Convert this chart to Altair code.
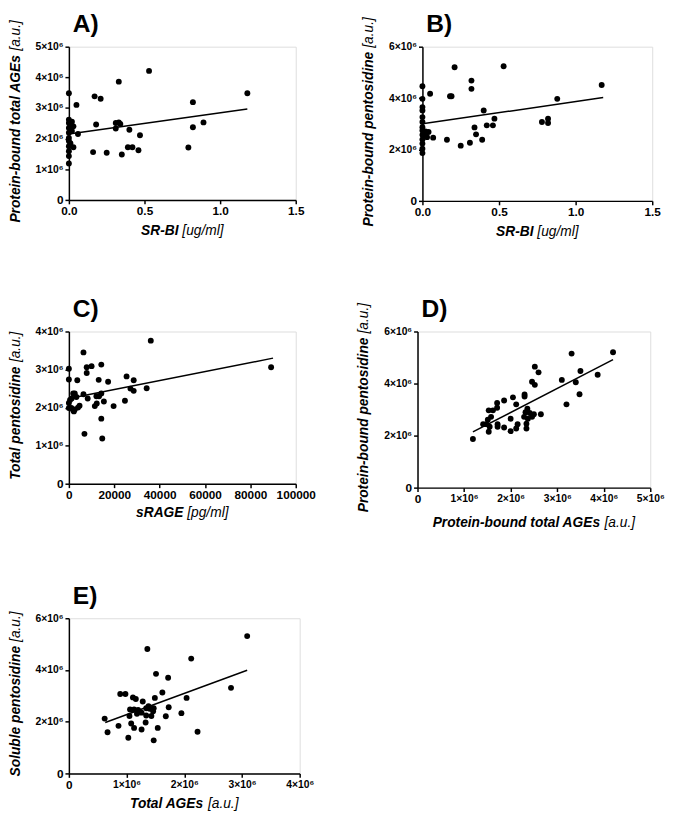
import altair as alt
import pandas as pd

FONT = "Liberation Sans"

# ---------------- data (y values in units of 10^6) ----------------
# A) SR-BI [ug/ml] vs protein-bound total AGEs
a_x = [0.53, 0.33, 1.18, 0.00, 0.17, 0.21, 0.82, 0.05, 0.18, 0.31, 0.33, 0.34, 0.31, 0.40,
       0.82, 0.89, 0.47, 0.06, 0.16, 0.25, 0.35, 0.39, 0.42, 0.46, 0.79,
       0.00, 0.00, 0.00, 0.00, 0.00, 0.00, 0.00, 0.00, 0.00, 0.00, 0.03, 0.03, 0.01, 0.02, 0.01, 0.02]
a_y = [4.21, 3.86, 3.48, 3.48, 3.38, 3.30, 3.19, 3.10, 2.46, 2.51, 2.53, 2.48, 2.33, 2.29,
       2.37, 2.53, 2.11, 2.15, 1.56, 1.54, 1.48, 1.72, 1.72, 1.62, 1.71,
       1.19, 1.43, 1.59, 1.75, 1.92, 2.02, 2.19, 2.35, 2.51, 2.62, 2.40, 1.72, 2.42, 2.55, 1.85, 2.25]
a_fit_x = [0.0, 1.18]
a_fit_y = [2.15, 2.97]

# B) SR-BI [ug/ml] vs protein-bound pentosidine
b_x = [0.53, 0.21, 0.32, 0.32, 1.17, 0.00, 0.05, 0.18, 0.19, 0.88, 0.40, 0.47, 0.78, 0.82,
       0.82, 0.34, 0.42, 0.46, 0.35, 0.39, 0.31, 0.25, 0.16, 0.07,
       0.00, 0.00, 0.00, 0.00, 0.00, 0.00, 0.00, 0.00, 0.00, 0.00, 0.00, 0.00, 0.02, 0.04, 0.03, 0.02]
b_y = [5.24, 5.20, 4.68, 4.36, 4.51, 4.46, 4.17, 4.07, 4.07, 3.97, 3.52, 3.20, 3.07, 3.20,
       3.03, 2.86, 2.94, 2.94, 2.59, 2.38, 2.26, 2.15, 2.38, 2.46,
       3.97, 3.65, 3.52, 3.26, 3.07, 2.87, 2.74, 2.57, 2.39, 2.23, 2.03, 1.86, 2.70, 2.68, 2.48, 2.55]
b_fit_x = [0.0, 1.18]
b_fit_y = [3.00, 4.02]

# C) sRAGE [pg/ml] vs total pentosidine
c_x = [36100, 6430, 89140, 0, 7860, 7860, 10000, 14290, 0, 3710, 13140, 17290, 25430, 28570,
       27140, 28570, 34290, 24710, 19710, 15430, 14290, 13290, 12140, 6430, 8290, 11430, 12290,
       14290, 6860, 14710, 0, 0, 1100, 1900, 2600, 4000, 1900, 2600, 1200, 4700, 3300, 500, 2200]
c_y = [3.76, 3.45, 3.06, 3.02, 3.06, 2.91, 3.09, 3.13, 2.74, 2.72, 2.73, 2.68, 2.82, 2.72,
       2.50, 2.44, 2.51, 2.18, 2.04, 2.16, 2.37, 2.30, 2.30, 2.35, 2.24, 2.04, 2.11,
       1.71, 1.31, 1.19, 2.12, 1.99, 1.99, 1.93, 1.95, 2.00, 2.37, 2.37, 2.24, 2.05, 2.28, 2.20, 1.90]
c_fit_x = [0, 90000]
c_fit_y = [2.24, 3.30]

# D) protein-bound total AGEs vs protein-bound pentosidine (both x10^6)
d_x = [1.19, 4.20, 3.31, 3.87, 3.50, 3.40, 3.10, 3.48, 3.20, 2.52, 2.60, 2.46, 2.52, 2.30, 2.30,
       2.05, 1.86, 1.71, 2.12, 1.71, 1.53, 1.62, 2.36, 2.32, 2.41, 2.29, 2.37, 2.46, 2.65, 2.50,
       2.00, 1.58, 1.51, 1.41, 1.48, 1.55, 1.53, 1.72, 1.72, 1.86, 2.00, 2.15, 2.12, 2.34, 2.34]
d_y = [1.87, 5.20, 5.15, 4.34, 4.48, 4.05, 4.14, 3.59, 3.20, 4.65, 4.43, 4.07, 3.95, 3.58, 3.50,
       3.47, 3.35, 3.25, 3.20, 3.07, 2.97, 2.97, 3.03, 2.90, 2.87, 2.72, 2.65, 2.72, 2.82, 2.82,
       2.65, 2.72, 2.61, 2.44, 2.44, 2.34, 2.15, 2.44, 2.34, 2.31, 2.17, 2.44, 2.27, 2.46, 2.27]
d_fit_x = [1.19, 4.20]
d_fit_y = [2.14, 4.92]

# E) total AGEs vs soluble pentosidine (both x10^6)
e_x = [3.09, 1.36, 2.12, 1.51, 1.72, 2.81, 0.89, 0.98, 1.62, 2.04, 1.11, 1.16, 1.28, 1.49,
       1.73, 1.95, 1.68, 1.06, 1.13, 1.34, 1.40, 1.47, 1.05, 1.18, 1.26, 1.34, 1.43, 1.46,
       0.62, 0.67, 0.86, 1.08, 1.13, 1.26, 1.33, 1.54, 1.03, 1.47, 2.23, 1.20, 1.38]
e_y = [5.31, 4.81, 4.44, 3.85, 3.70, 3.31, 3.07, 3.07, 3.13, 2.92, 2.94, 2.88, 2.78, 2.92,
       2.56, 2.33, 2.21, 2.47, 2.47, 2.52, 2.50, 2.52, 2.22, 2.31, 2.35, 2.24, 2.22, 2.40,
       2.12, 1.59, 1.84, 1.93, 1.76, 1.70, 1.97, 1.76, 1.38, 1.28, 1.61, 2.45, 2.60]
e_fit_x = [0.63, 3.09]
e_fit_y = [1.97, 3.99]

# ---------------- text metrics (Arial / Liberation Sans, per 1000 em) ----------------
BOLD_W = {' ': 278, '-': 333, '.': 278, '/': 278, '[': 333, ']': 333, 'A': 722, 'B': 722,
          'E': 667, 'G': 778, 'I': 278, 'P': 667, 'R': 722, 'S': 667, 'T': 611, 'a': 556,
          'b': 611, 'c': 556, 'd': 611, 'e': 556, 'g': 611, 'i': 278, 'l': 278, 'm': 889,
          'n': 611, 'o': 611, 'p': 611, 'r': 389, 's': 556, 't': 333, 'u': 611}
REG_W = {' ': 278, '[': 278, ']': 278, '.': 278, '/': 278, 'a': 556, 'u': 556, 'g': 556,
         'm': 833, 'l': 222, 'p': 556}
TFS = 14


def tw(s, table):
    return sum(table.get(c, 556) for c in s) * TFS / 1000.0


def txt(text, x, y, **kw):
    return alt.Chart(pd.DataFrame({"k": [0]})).mark_text(font=FONT, color="black", **kw).encode(
        x=alt.value(x), y=alt.value(y), text=alt.value(text))


SCI_EXPR = "datum.value == 0 ? '0' : format(datum.value, 'd') + '×10⁶'"
SCI_SIZE = {"condition": {"test": "datum.value == 0", "value": 12}, "value": 10.5}


def make_axis(values, sci, fmt=None):
    kw = dict(values=values, title=None, grid=False, domainColor="black", domainWidth=1.5,
              tickColor="black", tickWidth=1.5, tickSize=4, labelFont=FONT,
              labelFontWeight="bold", labelColor="black", labelFlush=False,
              labelOverlap=False, labelPadding=2)
    if sci:
        kw["labelExpr"] = SCI_EXPR
        kw["labelFontSize"] = SCI_SIZE
    else:
        kw["labelFontSize"] = 12
        if fmt:
            kw["format"] = fmt
    return alt.Axis(**kw)


def panel(px, py, fx, fy, W, H, xdom, xticks, xsci, xfmt, ydom, yticks, label, lab_y,
          ytitle, xtitle, xt_off, yshift=-2):
    xaxis = make_axis(xticks, xsci, xfmt)
    yaxis = make_axis(yticks, True)
    xenc = alt.X("x:Q", scale=alt.Scale(domain=xdom, nice=False, zero=False), axis=xaxis)
    yenc = alt.Y("y:Q", scale=alt.Scale(domain=ydom, nice=False, zero=False), axis=yaxis)
    pts = alt.Chart(pd.DataFrame({"x": px, "y": py})).mark_circle(
        size=36, color="black", opacity=1).encode(x=xenc, y=yenc)
    fit = alt.Chart(pd.DataFrame({"x": fx, "y": fy})).mark_line(
        color="black", strokeWidth=1.5).encode(x=xenc, y=yenc)
    sp = BOLD_W[' '] * TFS / 1000.0
    # y title (bold part + regular part), reads bottom-to-top
    yb, yr = ytitle
    wb, wr = tw(yb, BOLD_W), tw(yr, REG_W)
    y0 = H / 2 + (wb + sp + wr) / 2 + yshift
    ytb = txt(yb, -54, y0, angle=270, align="left", baseline="middle", fontSize=TFS,
              fontWeight="bold", fontStyle="italic")
    ytr = txt(yr, -54, y0 - wb - sp, angle=270, align="left", baseline="middle",
              fontSize=TFS, fontStyle="italic")
    # x title
    xb, xr = xtitle
    wb2, wr2 = tw(xb, BOLD_W), tw(xr, REG_W)
    x0 = W / 2 - (wb2 + sp + wr2) / 2
    xtb = txt(xb, x0, H + xt_off, align="left", baseline="alphabetic", fontSize=TFS,
              fontWeight="bold", fontStyle="italic")
    xtr = txt(xr, x0 + wb2 + sp, H + xt_off, align="left", baseline="alphabetic",
              fontSize=TFS, fontStyle="italic")
    lab = txt(label, 4, lab_y, align="left", baseline="alphabetic", fontSize=25,
              fontWeight="bold")
    return alt.layer(pts, fit, ytb, ytr, xtb, xtr, lab).properties(width=W, height=H)


pA = panel(a_x, a_y, a_fit_x, a_fit_y, 231, 156, [0, 1.5], [0, 0.5, 1.0, 1.5], False, ".1f",
           [0, 5], [0, 1, 2, 3, 4, 5], "A)", -15,
           ("Protein-bound total AGEs", "[a.u.]"), ("SR-BI", "[ug/ml]"), 36)
pB = panel(b_x, b_y, b_fit_x, b_fit_y, 234, 157, [0, 1.5], [0, 0.5, 1.0, 1.5], False, ".1f",
           [0, 6], [0, 2, 4, 6], "B)", -15,
           ("Protein-bound pentosidine", "[a.u.]"), ("SR-BI", "[ug/ml]"), 36)
pC = panel(c_x, c_y, c_fit_x, c_fit_y, 231, 155, [0, 100000],
           [0, 20000, 40000, 60000, 80000, 100000], False, "d",
           [0, 4], [0, 1, 2, 3, 4], "C)", -15,
           ("Total pentosidine", "[a.u.]"), ("sRAGE", "[pg/ml]"), 34)
pD = panel(d_x, d_y, d_fit_x, d_fit_y, 237, 159, [0, 5], [0, 1, 2, 3, 4, 5], True, None,
           [0, 6], [0, 2, 4, 6], "D)", -15,
           ("Protein-bound pentosidine", "[a.u.]"), ("Protein-bound total AGEs", "[a.u.]"), 40)
pE = panel(e_x, e_y, e_fit_x, e_fit_y, 235, 158, [0, 4], [0, 1, 2, 3, 4], True, None,
           [0, 6], [0, 2, 4, 6], "E)", -15,
           ("Soluble pentosidine", "[a.u.]"), ("Total AGEs", "[a.u.]"), 35)

row1 = alt.hconcat(pA, pB, spacing=58)
row2 = alt.hconcat(pC, pD, spacing=41)
top = alt.vconcat(row1, row2, spacing=57)
chart = alt.vconcat(top, pE, spacing=53).properties(
    padding={"left": 0, "top": -4, "right": 0, "bottom": 0}
).configure_view(stroke=None).configure(background="white")

chart.save("out.html", embed_options={"renderer": "svg", "actions": False})
